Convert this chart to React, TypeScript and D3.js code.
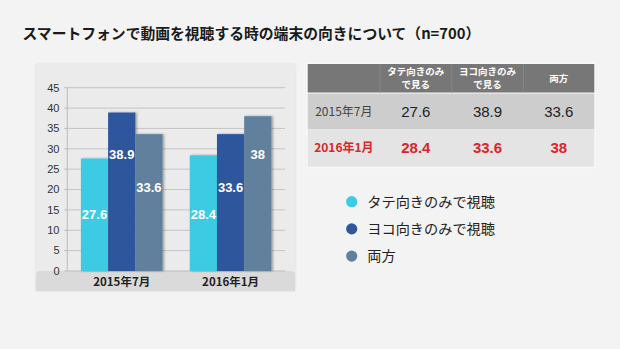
import React from "react";
import * as d3 from "d3";

const title = "スマートフォンで動画を視聴する時の端末の向きについて（n=700）";
const categories = ["2015年7月", "2016年1月"];
const seriesNames = ["タテ向きのみで視聴", "ヨコ向きのみで視聴", "両方"];
const headerNames = [["タテ向きのみ", "で見る"], ["ヨコ向きのみ", "で見る"], ["両方"]];
const tate = [27.6, 28.4];
const yoko = [38.9, 33.6];
const ryoho = [33.6, 38];
const yTicks = [0, 5, 10, 15, 20, 25, 30, 35, 40, 45];
const labelLevels = [13.8, 20.6, 28.7];
const colors = ["#3ccbe4", "#2f579c", "#60809d"];

const W = 620, H = 349;
const JP = "'Noto Sans CJK JP', 'Noto Sans', sans-serif";
const LAT = "'Liberation Sans', Arial, sans-serif";

export default function App() {
  const series = [tate, yoko, ryoho];
  const plotL = 67.3, plotR = 285, plotT = 87.7, plotB = 271;
  const y = d3.scaleLinear().domain([0, 45]).range([plotB, plotT]);
  const x0 = d3.scaleBand<string>().domain(categories).range([plotL, plotR]).paddingInner(0.25).paddingOuter(0.125);
  const x1 = d3.scaleBand<number>().domain([0, 1, 2]).range([0, x0.bandwidth()]).padding(0);

  // table layout
  const tL = 307.7, tR = 594.3;
  const colX = [tL, 380, 451.7, 523.3, tR];
  const rowY = [64, 92.5, 129.3, 166.7];

  return (
    <svg width={W} height={H} style={{ position: "absolute", left: 0, top: 0 }} xmlns="http://www.w3.org/2000/svg">
      <defs>
        <filter id="sh" x="-10%" y="-10%" width="130%" height="130%">
          <feDropShadow dx="1.5" dy="0" stdDeviation="0.8" floodColor="#000" floodOpacity="0.35" />
        </filter>
        <filter id="psh" x="-5%" y="-5%" width="110%" height="110%">
          <feDropShadow dx="0" dy="0" stdDeviation="1" floodColor="#000" floodOpacity="0.12" />
        </filter>
      </defs>
      <rect x={0} y={0} width={W} height={H} fill="#f3f3f3" />
      <text x={22.5} y={38.5} fontFamily={JP} fontWeight={700} fontSize={14.8} fill="#1a1a1a">{title}</text>

      {/* chart panel */}
      <rect x={36} y={64} width={259} height={227} fill="#ebebeb" filter="url(#psh)" />
      <rect x={36} y={plotB} width={259} height={20} rx={4} fill="#dadada" />
      <rect x={36} y={plotB + 8} width={259} height={12} fill="#dadada" />
      {yTicks.map((t) => (
        <g key={t}>
          {t > 0 && <line x1={plotL} x2={plotR} y1={y(t)} y2={y(t)} stroke="#c4c4c4" strokeWidth={1} />}
          <line x1={plotL - 3} x2={plotL} y1={y(t)} y2={y(t)} stroke="#bbbbbb" />
          <text x={59.5} y={y(t)} dy="0.35em" textAnchor="end" fontFamily={LAT} fontSize={11} fill="#333">{t}</text>
        </g>
      ))}
      <line x1={plotL} x2={plotL} y1={plotT} y2={plotB} stroke="#bbbbbb" />
      <line x1={plotL} x2={plotR} y1={plotB} y2={plotB} stroke="#bbbbbb" />

      {categories.map((c, ci) => {
        const vals = series.map((s) => s[ci]);
        const order = vals.map((v, i) => i).sort((a, b) => vals[a] - vals[b]);
        return (
          <g key={c} transform={`translate(${x0(c)},0)`}>
            {series.map((s, si) => (
              <rect key={si} x={x1(si)} y={y(s[ci])} width={x1.bandwidth()} height={y(0) - y(s[ci])} fill={colors[si]} filter="url(#sh)" />
            ))}
            {series.map((s, si) => (
              <text key={"l" + si} x={(x1(si) ?? 0) + x1.bandwidth() / 2} y={y(labelLevels[order.indexOf(si)])} dy="0.35em" textAnchor="middle" fontFamily={LAT} fontWeight={700} fontSize={13} fill="#ffffff">{s[ci]}</text>
            ))}
            <text x={x0.bandwidth() / 2} y={plotB + 10.5} dy="0.35em" textAnchor="middle" fontFamily={JP} fontWeight={700} fontSize={11.5} fill="#222">{c}</text>
          </g>
        );
      })}

      {/* table */}
      <rect x={tL - 1.5} y={rowY[0] - 1.5} width={tR - tL + 3} height={rowY[3] - rowY[0] + 3} fill="#f8f8f8" />
      <rect x={tL} y={rowY[0]} width={tR - tL} height={rowY[1] - rowY[0]} fill="#777777" />
      <rect x={tL} y={rowY[1] + 1} width={tR - tL} height={rowY[2] - rowY[1] - 1} fill="#cdcdcd" />
      <rect x={tL} y={rowY[2]} width={tR - tL} height={rowY[3] - rowY[2]} fill="#e4e4e4" />
      {colX.slice(1, 4).map((cx, i) => (
        <line key={i} x1={cx} x2={cx} y1={rowY[0]} y2={rowY[1]} stroke="#8a8a8a" strokeWidth={0.8} />
      ))}
      {headerNames.map((lines, i) => {
        const cx = (colX[i + 1] + colX[i + 2]) / 2;
        const mid = (rowY[0] + rowY[1]) / 2;
        const lh = 12.5;
        return lines.map((ln, li) => (
          <text key={i + "-" + li} x={cx} y={mid + (li - (lines.length - 1) / 2) * lh} dy="0.36em" textAnchor="middle" fontFamily={JP} fontWeight={700} fontSize={9.5} fill="#ffffff">{ln}</text>
        ));
      })}
      {categories.map((c, ri) => {
        const mid = (rowY[ri + 1] + rowY[ri + 2]) / 2 + (ri === 0 ? 0.5 : 0);
        const red = ri === 1;
        const col = red ? "#d9262b" : "#222";
        return (
          <g key={c}>
            <text x={(colX[0] + colX[1]) / 2} y={mid} dy="0.36em" textAnchor="middle" fontFamily={JP} fontWeight={red ? 700 : 400} fontSize={12} fill={red ? col : "#444"}>{c}</text>
            {series.map((s, si) => (
              <text key={si} x={(colX[si + 1] + colX[si + 2]) / 2} y={mid} dy="0.36em" textAnchor="middle" fontFamily={LAT} fontWeight={red ? 700 : 400} fontSize={15} fill={col}>{s[ri]}</text>
            ))}
          </g>
        );
      })}

      {/* legend */}
      {seriesNames.map((n, i) => (
        <g key={n} transform={`translate(351.7,${201.7 + i * 27.2})`}>
          <circle r={5.6} fill={colors[i]} />
          <text x={15.6} y={0} dy="0.36em" fontFamily={JP} fontSize={14.2} fill="#222">{n}</text>
        </g>
      ))}
    </svg>
  );
}
